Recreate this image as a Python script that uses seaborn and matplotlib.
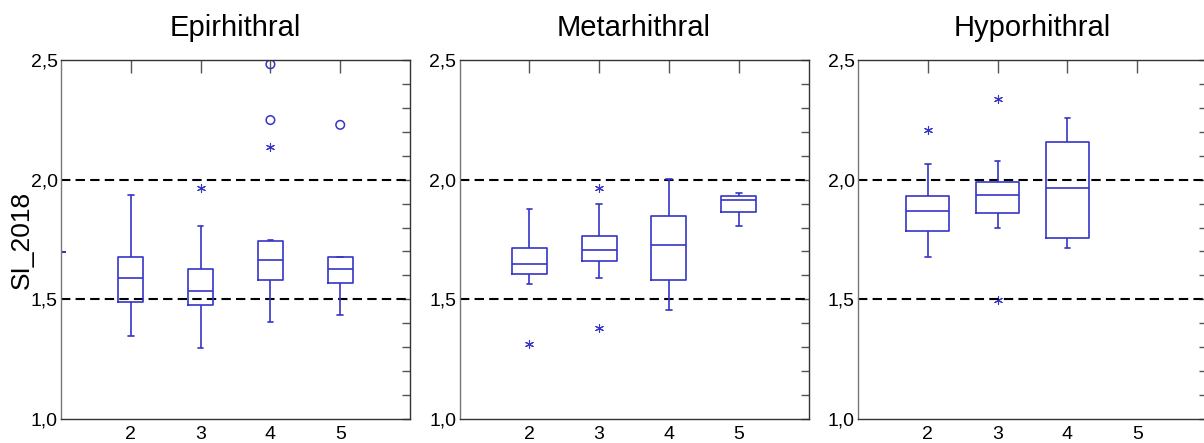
import numpy as np
import pandas as pd
import matplotlib
matplotlib.use("Agg")
import matplotlib.pyplot as plt
from matplotlib.ticker import MultipleLocator, FuncFormatter
import seaborn as sns

zones = ["Epirhithral", "Metarhithral", "Hyporhithral"]

# five-number summaries per group: whisker low, q1, median, q3, whisker high
epi_groups = [2, 3, 4, 5]
epi_stats = [
    [1.345, 1.489, 1.591, 1.677, 1.935],
    [1.298, 1.478, 1.536, 1.627, 1.807],
    [1.405, 1.582, 1.665, 1.745, 1.748],
    [1.434, 1.568, 1.627, 1.677, 1.677],
]
meta_groups = [2, 3, 4, 5]
meta_stats = [
    [1.565, 1.607, 1.649, 1.714, 1.876],
    [1.588, 1.662, 1.708, 1.765, 1.900],
    [1.457, 1.582, 1.726, 1.848, 2.003],
    [1.806, 1.866, 1.915, 1.932, 1.943],
]
hypo_groups = [2, 3, 4]
hypo_stats = [
    [1.678, 1.787, 1.868, 1.933, 2.065],
    [1.800, 1.862, 1.937, 1.989, 2.078],
    [1.716, 1.758, 1.967, 2.156, 2.256],
]

# outliers (circles) and extremes (asterisks)
epi_out_x, epi_out_y = [4, 4, 5], [2.482, 2.249, 2.229]
epi_ext_x, epi_ext_y = [3, 4], [1.967, 2.137]
meta_out_x, meta_out_y = [], []
meta_ext_x, meta_ext_y = [2, 3, 3], [1.315, 1.965, 1.379]
hypo_out_x, hypo_out_y = [], []
hypo_ext_x, hypo_ext_y = [2, 3, 3], [2.209, 2.337, 1.499]

# single value of group 1 in epirhithral (sits on the left edge)
epi_single_x, epi_single_y = [1], [1.697]

box_widths = [0.36, 0.5, 0.62]
ref_lines = [1.5, 2.0]
x_ticks = [2, 3, 4, 5]

blue = "#3535c8"


def long_frame(groups, stats):
    rows = []
    for g, s in zip(groups, stats):
        for v in s:
            rows.append({"group": g, "SI_2018": v})
    return pd.DataFrame(rows)


panels = [
    (epi_groups, epi_stats, epi_out_x, epi_out_y, epi_ext_x, epi_ext_y),
    (meta_groups, meta_stats, meta_out_x, meta_out_y, meta_ext_x, meta_ext_y),
    (hypo_groups, hypo_stats, hypo_out_x, hypo_out_y, hypo_ext_x, hypo_ext_y),
]

sns.set_style("white")
plt.rcParams["font.family"] = ["Liberation Sans", "DejaVu Sans"]
plt.rcParams["text.color"] = "black"
plt.rcParams["axes.labelcolor"] = "black"
plt.rcParams["xtick.labelcolor"] = "black"
plt.rcParams["ytick.labelcolor"] = "black"

fig, axes = plt.subplots(1, 3, figsize=(12.04, 4.43), dpi=100)
fig.subplots_adjust(left=0.0507, right=1.0025, bottom=0.0542, top=0.8646, wspace=0.142)

comma = FuncFormatter(lambda v, pos: f"{v:.1f}".replace(".", ","))

for i, (ax, title, (groups, stats, ox, oy, ex, ey)) in enumerate(zip(axes, zones, panels)):
    df = long_frame(groups, stats)
    sns.boxplot(data=df, x="group", y="SI_2018", native_scale=True, width=box_widths[i],
                whis=(0, 100), fill=False, color=blue, saturation=1, linewidth=1.2,
                showfliers=False, capwidths=0.08, ax=ax)
    if ox:
        sns.scatterplot(x=ox, y=oy, marker="o", s=38, facecolor="none",
                        edgecolor=blue, linewidth=1.1, ax=ax)
    if ex:
        sns.scatterplot(x=ex, y=ey, marker=(6, 2, 0), s=34, color=blue,
                        edgecolor=blue, linewidth=0.8, ax=ax)
    if i == 0:
        sns.scatterplot(x=epi_single_x, y=epi_single_y, marker="_", s=50,
                        color=blue, linewidth=1.5, ax=ax)

    for r in ref_lines:
        ax.axhline(r, color="black", lw=1.5, ls=(0, (4.5, 2.5)), zorder=1)

    ax.set_xlim(1, 6)
    ax.set_ylim(1.0, 2.5)
    ax.set_xticks(x_ticks)
    ax.set_xticklabels([str(t) for t in x_ticks])
    ax.yaxis.set_major_locator(MultipleLocator(0.5))
    ax.yaxis.set_minor_locator(MultipleLocator(0.1))
    ax.yaxis.set_major_formatter(comma)
    ax.tick_params(axis="both", which="both", direction="in", top=True, right=True,
                   color="#555555", width=1)
    ax.tick_params(axis="y", which="both", length=6, labelsize=14, pad=2.5)
    ax.tick_params(axis="x", which="major", length=9, labelsize=14, pad=5)
    for sp in ax.spines.values():
        sp.set_color("#333333")
        sp.set_linewidth(1)
    ax.spines["left"].set_color("#777777")
    ax.set_title(title, fontsize=21, pad=17, color="black")
    ax.set_xlabel("")
    if i == 0:
        ax.set_ylabel("SI_2018", fontsize=19, labelpad=-2)
    else:
        ax.set_ylabel("")

fig.savefig("out.png", dpi=100)
